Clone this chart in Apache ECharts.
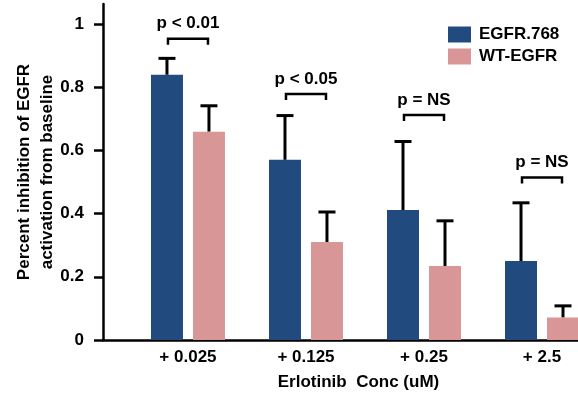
<!DOCTYPE html>
<html>
<head>
<meta charset="utf-8">
<script src="https://cdn.jsdelivr.net/npm/echarts@6/dist/echarts.min.js"></script>
<style>html,body{margin:0;padding:0;background:#fff;}#c{width:578px;height:400px;}</style>
</head>
<body>
<div id="c"></div>
<script>
const categories = ['+ 0.025', '+ 0.125', '+ 0.25', '+ 2.5'];
const egfr768 = [0.839, 0.570, 0.411, 0.250];
const egfr768ErrTop = [0.891, 0.710, 0.628, 0.434];
const wtEgfr = [0.659, 0.310, 0.234, 0.071];
const wtEgfrErrTop = [0.741, 0.405, 0.377, 0.108];
const pLabels = ['p < 0.01', 'p < 0.05', 'p = NS', 'p = NS'];
const bracketLevel = [0.953, 0.778, 0.712, 0.514];
const yTicks = [0, 0.2, 0.4, 0.6, 0.8, 1];
const seriesNames = ['EGFR.768', 'WT-EGFR'];

const FONT = 'Liberation Sans, Arial, sans-serif';
const chart = echarts.init(document.getElementById('c'));

function barRenderer(offset) {
  return function (params, api) {
    const c = api.value(0);
    const base = api.coord([c, 0]);
    const top = api.coord([c, api.value(1)]);
    const err = api.coord([c, api.value(2)]);
    const x = base[0] + offset;
    const color = api.visual('color');
    return {
      type: 'group',
      children: [
        { type: 'line', shape: { x1: x, y1: top[1], x2: x, y2: err[1] }, style: { stroke: '#000', lineWidth: 3 } },
        { type: 'line', shape: { x1: x - 8.5, y1: err[1], x2: x + 8.5, y2: err[1] }, style: { stroke: '#000', lineWidth: 3 } },
        { type: 'rect', shape: { x: x - 16, y: top[1], width: 32, height: base[1] - top[1] }, style: { fill: color } }
      ]
    };
  };
}

function bracketRenderer(params, api) {
  const c = api.value(0);
  const p = api.coord([c, api.value(1)]);
  const x1 = p[0] - 20, x2 = p[0] + 20, y = p[1];
  return {
    type: 'group',
    children: [
      { type: 'polyline', shape: { points: [[x1, y + 6], [x1, y], [x2, y], [x2, y + 6]] }, style: { stroke: '#000', lineWidth: 2.5, fill: null } },
      { type: 'text', x: p[0], y: y - 15, style: { text: pLabels[params.dataIndex], fontSize: 17, fontWeight: 'bold', fontFamily: FONT, fill: '#000', align: 'center', verticalAlign: 'middle' } }
    ]
  };
}

const option = {
  animation: false,
  backgroundColor: '#fff',
  grid: { left: 103, right: 0, top: 4, bottom: 60, containLabel: false, outerBoundsMode: 'none' },
  legend: {
    orient: 'vertical', left: 443, top: 21,
    itemWidth: 23, itemHeight: 16, itemGap: 5,
    icon: 'rect',
    data: seriesNames,
    textStyle: { fontSize: 17, fontWeight: 'bold', fontFamily: FONT, color: '#000', padding: [0, 0, 0, 3] }
  },
  xAxis: {
    type: 'value', min: -0.72, max: 3.305,
    axisLine: { show: true, onZero: false, lineStyle: { color: '#000', width: 2.5 } },
    axisTick: { show: false },
    splitLine: { show: false },
    axisLabel: {
      customValues: [0, 1, 2, 3],
      formatter: function (v) { return categories[Math.round(v)]; },
      margin: 9, fontSize: 17, fontWeight: 'bold', fontFamily: FONT, color: '#000'
    },
    name: 'Erlotinib  Conc (uM)', nameLocation: 'middle', nameGap: 34, nameMoveOverlap: false,
    nameTextStyle: { fontSize: 17, fontWeight: 'bold', fontFamily: FONT, color: '#000', padding: [0, 0, 0, 36] }
  },
  yAxis: {
    type: 'value', min: 0, max: 1.063,
    axisLine: { show: true, onZero: false, lineStyle: { color: '#000', width: 2.5 } },
    axisTick: { show: true, length: 9, customValues: yTicks, lineStyle: { color: '#000', width: 2.5 } },
    splitLine: { show: false },
    axisLabel: {
      customValues: yTicks,
      margin: 19, fontSize: 17, fontWeight: 'bold', fontFamily: FONT, color: '#000'
    },
    name: 'Percent inhibition of EGFR\nactivation from baseline', nameLocation: 'middle', nameGap: 44, nameMoveOverlap: false,
    nameTextStyle: { fontSize: 17, fontWeight: 'bold', fontFamily: FONT, color: '#000', lineHeight: 23 }
  },
  series: [
    {
      name: seriesNames[0], type: 'custom', itemStyle: { color: '#214a7f' },
      renderItem: barRenderer(-21),
      data: egfr768.map((v, i) => [i, v, egfr768ErrTop[i]])
    },
    {
      name: seriesNames[1], type: 'custom', itemStyle: { color: '#d99696' },
      renderItem: barRenderer(21),
      data: wtEgfr.map((v, i) => [i, v, wtEgfrErrTop[i]])
    },
    {
      name: 'brackets', type: 'custom', silent: true,
      renderItem: bracketRenderer,
      data: bracketLevel.map((v, i) => [i, v])
    }
  ]
};
chart.setOption(option);
</script>
</body>
</html>
